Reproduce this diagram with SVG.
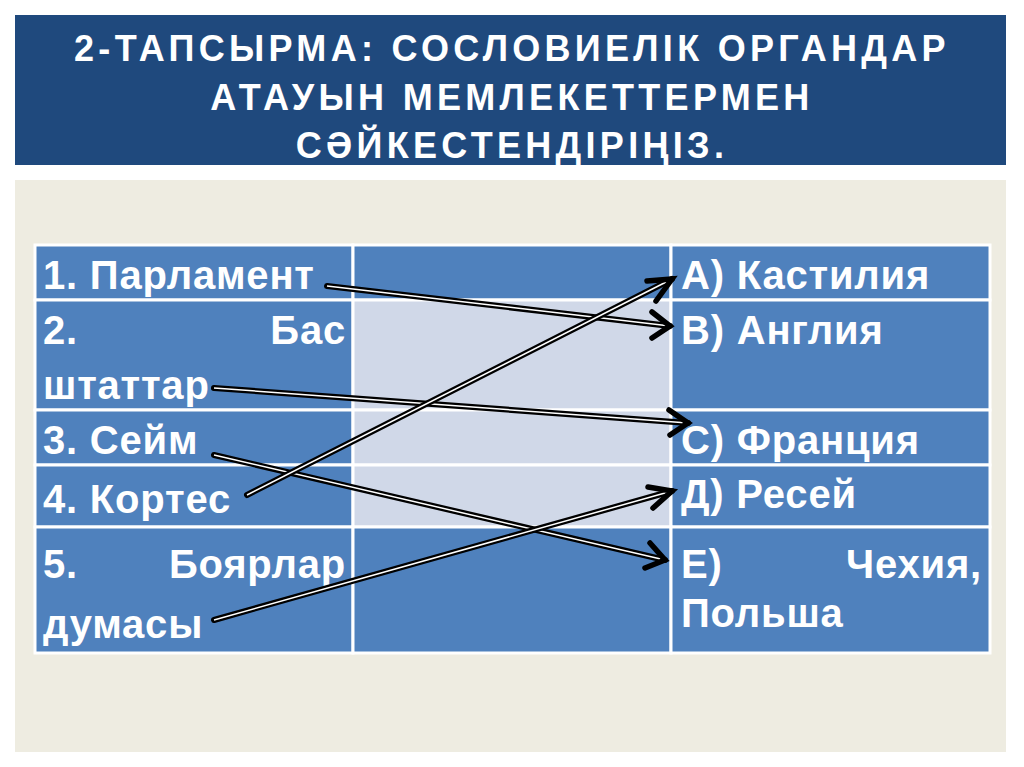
<svg xmlns="http://www.w3.org/2000/svg" width="1024" height="767" viewBox="0 0 1024 767">
<style>
.t{font-family:"Liberation Sans",Arial,sans-serif;font-weight:bold;fill:#fff}
.title{font-size:36px;letter-spacing:4.3px}
.c{font-size:40px;letter-spacing:0.8px}
.blue{fill:#4f81bd;stroke:#fff;stroke-width:3}
.light{fill:#d0d8e8;stroke:#fff;stroke-width:3}
.ln{stroke:#000;stroke-width:6;fill:none;stroke-linecap:round}
.in{stroke:#fff;stroke-width:1.5;fill:none}
.hd{stroke:#000;stroke-width:5.5;fill:none;stroke-linecap:round;stroke-linejoin:miter}
</style>
<rect width="1024" height="767" fill="#fff"/>
<rect x="15" y="180" width="991" height="572" fill="#eeece1"/>
<g id="title">
<rect x="15" y="15" width="991" height="150" fill="#1f497d"/>
<text class="t title" x="512" y="61" text-anchor="middle">2-ТАПСЫРМА: СОСЛОВИЕЛІК ОРГАНДАР</text>
<text class="t title" x="512" y="110" text-anchor="middle">АТАУЫН МЕМЛЕКЕТТЕРМЕН</text>
<text class="t title" x="512" y="158" text-anchor="middle">СӘЙКЕСТЕНДІРІҢІЗ.</text>
</g>
<g id="table">
<rect class="blue" x="35" y="245" width="318" height="55"/>
<rect class="blue" x="353" y="245" width="318" height="55"/>
<rect class="blue" x="671" y="245" width="319" height="55"/>
<rect class="blue" x="35" y="300" width="318" height="110"/>
<rect class="light" x="353" y="300" width="318" height="110"/>
<rect class="blue" x="671" y="300" width="319" height="110"/>
<rect class="blue" x="35" y="410" width="318" height="55"/>
<rect class="light" x="353" y="410" width="318" height="55"/>
<rect class="blue" x="671" y="410" width="319" height="55"/>
<rect class="blue" x="35" y="465" width="318" height="62"/>
<rect class="light" x="353" y="465" width="318" height="62"/>
<rect class="blue" x="671" y="465" width="319" height="62"/>
<rect class="blue" x="35" y="527" width="318" height="126"/>
<rect class="blue" x="353" y="527" width="318" height="126"/>
<rect class="blue" x="671" y="527" width="319" height="126"/>
</g>
<g id="labels">
<text class="t c" x="43" y="289">1. Парламент</text>
<text class="t c" x="43" y="344">2.</text>
<text class="t c" x="346" y="344" text-anchor="end">Бас</text>
<text class="t c" x="43" y="399">штаттар</text>
<text class="t c" x="43" y="454">3. Сейм</text>
<text class="t c" x="43" y="513">4. Кортес</text>
<text class="t c" x="43" y="578">5.</text>
<text class="t c" x="346" y="578" text-anchor="end">Боярлар</text>
<text class="t c" x="43" y="638">думасы</text>
<text class="t c" x="681" y="289">А) Кастилия</text>
<text class="t c" x="681" y="344">В) Англия</text>
<text class="t c" x="681" y="454">С) Франция</text>
<text class="t c" x="681" y="508">Д) Ресей</text>
<text class="t c" x="681" y="578">Е)</text>
<text class="t c" x="982" y="578" text-anchor="end">Чехия,</text>
<text class="t c" x="681" y="627">Польша</text>
</g>
<g id="connectors">
<line class="ln" x1="327" y1="286" x2="670" y2="326"/><line class="in" x1="327" y1="286" x2="670" y2="326"/>
<polyline class="hd" points="652,312 670,326 652,338"/>
<line class="ln" x1="214" y1="388" x2="688" y2="423"/><line class="in" x1="214" y1="388" x2="688" y2="423"/>
<polyline class="hd" points="669,410 688,423 670,435"/>
<line class="ln" x1="214" y1="455" x2="665" y2="560"/><line class="in" x1="214" y1="455" x2="665" y2="560"/>
<polyline class="hd" points="650,543 665,560 645,568"/>
<line class="ln" x1="247" y1="495" x2="672" y2="279"/><line class="in" x1="247" y1="495" x2="672" y2="279"/>
<polyline class="hd" points="647,281 672,279 656,301"/>
<line class="ln" x1="214" y1="620" x2="672" y2="491"/><line class="in" x1="214" y1="620" x2="672" y2="491"/>
<polyline class="hd" points="648,487 672,491 653,508"/>
</g>
</svg>
